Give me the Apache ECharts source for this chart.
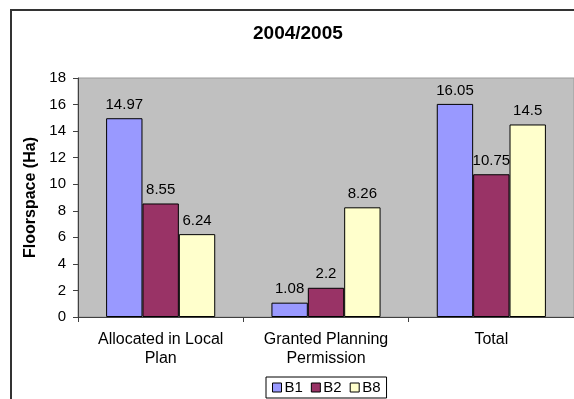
<!DOCTYPE html>
<html>
<head>
<meta charset="utf-8">
<title>2004/2005</title>
<script src="https://cdn.jsdelivr.net/npm/echarts@6/dist/echarts.min.js"></script>
<style>
  html, body { margin: 0; padding: 0; background: #fff; }
  #chart { width: 574px; height: 399px; }
</style>
</head>
<body>
<div id="chart"></div>
<script>
// Floorspace by use class, 2004/2005 (hectares)
const categories = ['Allocated in Local\nPlan', 'Granted Planning\nPermission', 'Total'];
const seriesNames = ['B1', 'B2', 'B8'];
const valuesB1 = [14.97, 1.08, 16.05];
const valuesB2 = [8.55, 2.2, 10.75];
const valuesB8 = [6.24, 8.26, 14.5];
const yTicks = { min: 0, max: 18, interval: 2 };

const FONT = '"Liberation Sans", Arial, sans-serif';
const colors = ['#9999FF', '#993366', '#FFFFCC'];
const seriesValues = [valuesB1, valuesB2, valuesB8];

const chart = echarts.init(document.getElementById('chart'), null, { renderer: 'canvas' });

chart.setOption({
  animation: false,
  backgroundColor: '#ffffff',
  textStyle: { fontFamily: FONT, color: '#000' },
  graphic: [{
    type: 'rect',
    shape: { x: 11, y: 10, width: 640, height: 460 },
    style: { fill: 'none', stroke: '#333', lineWidth: 2 },
    silent: true,
    z: 100
  }],
  title: {
    text: '2004/2005',
    left: 253,
    top: 24,
    padding: 0,
    textStyle: { fontFamily: FONT, fontSize: 19, fontWeight: 'bold', color: '#000' }
  },
  legend: {
    data: seriesNames,
    left: 266,
    top: 377,
    orient: 'horizontal',
    padding: [3, 6, 3, 6],
    borderColor: '#000',
    borderWidth: 1,
    itemWidth: 9,
    itemHeight: 9,
    itemGap: 8,
    icon: 'rect',
    itemStyle: { borderColor: '#000', borderWidth: 1 },
    textStyle: { fontFamily: FONT, fontSize: 15, color: '#000', padding: [0, 0, 0, -2] }
  },
  grid: {
    left: 78,
    top: 78,
    width: 501,
    height: 239,
    show: true,
    backgroundColor: '#C0C0C0',
    borderColor: '#9a9a9a',
    borderWidth: 1,
    containLabel: false
  },
  xAxis: {
    type: 'category',
    data: categories,
    axisLine: { show: true, lineStyle: { color: '#404040', width: 1 } },
    axisTick: { show: true, inside: false, length: 5, alignWithLabel: false, lineStyle: { color: '#404040' } },
    axisLabel: { fontFamily: FONT, fontSize: 16, color: '#000', margin: 13, lineHeight: 19, interval: 0 },
    splitLine: { show: false }
  },
  yAxis: {
    type: 'value',
    min: yTicks.min,
    max: yTicks.max,
    interval: yTicks.interval,
    name: 'Floorspace (Ha)',
    nameLocation: 'middle',
    nameGap: 37,
    nameTextStyle: { fontFamily: FONT, fontSize: 16, fontWeight: 'bold', color: '#000' },
    axisLine: { show: true, lineStyle: { color: '#404040', width: 1 } },
    axisTick: { show: true, inside: false, length: 5, lineStyle: { color: '#404040' } },
    axisLabel: { fontFamily: FONT, fontSize: 15, color: '#000', margin: 12 },
    splitLine: { show: false }
  },
  series: seriesNames.map((name, i) => ({
    name: name,
    type: 'bar',
    data: seriesValues[i],
    barGap: '0%',
    barCategoryGap: '34%',
    itemStyle: { color: colors[i], borderColor: '#000', borderWidth: 1 },
    label: {
      show: true,
      position: 'top',
      distance: 6,
      fontFamily: FONT,
      fontSize: 15,
      color: '#000'
    }
  }))
});
</script>
</body>
</html>
